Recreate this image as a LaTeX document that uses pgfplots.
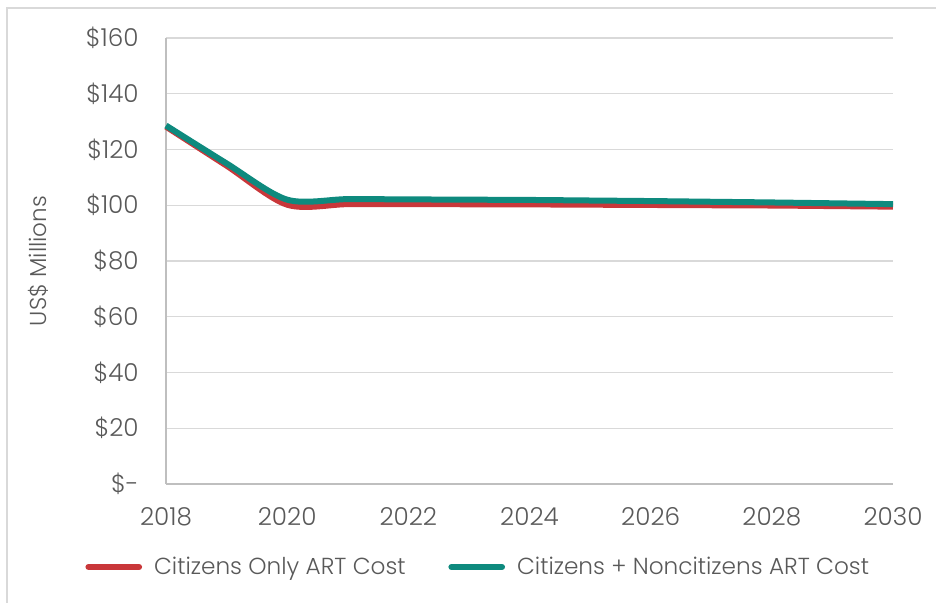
\documentclass[border=0pt]{standalone}
\usepackage{fontspec}
\setmainfont{Poppins}[UprightFont=* Light]
\usepackage{pgfplots}
\pgfplotsset{compat=1.18}
\definecolor{txt}{HTML}{595959}
\definecolor{gridc}{HTML}{D9D9D9}
\definecolor{axc}{HTML}{BFBFBF}
\definecolor{redc}{HTML}{C9373A}
\definecolor{tealc}{HTML}{0E8A7E}
\begin{document}
\begin{tikzpicture}
\path[use as bounding box] (-124.5pt,-89.25pt) rectangle (577.5pt,363pt);
\draw[gridc, line width=1.2pt] (-119.25pt,-89.25pt) -- (-119.25pt,357pt) -- (577.5pt,357pt);
\begin{axis}[
  at={(0,0)}, anchor=south west,
  scale only axis, width=545.25pt, height=334.5pt,
  xmin=2018, xmax=2030, ymin=0, ymax=160,
  xtick={2018,2020,...,2030},
  ytick={0,20,...,160},
  yticklabels={\$-,\$20,\$40,\$60,\$80,\$100,\$120,\$140,\$160},
  xticklabel style={/pgf/number format/1000 sep={}, yshift=-14pt},
  yticklabel style={xshift=-17pt},
  /pgf/number format/assume math mode=true,
  major tick length=0pt,
  axis lines*=left,
  axis line style={axc, line width=1.1pt},
  ymajorgrids, grid style={gridc, line width=1.1pt},
  tick label style={font=\fontsize{18.5}{22}\selectfont, text=txt},
  ylabel={US\$ Millions},
  every axis y label/.style={at={(rel axis cs:0,0.5)}, xshift=-96pt, rotate=90, anchor=center, font=\fontsize{17.3}{20}\selectfont, text=txt},
  legend columns=2,
  legend style={at={(0.43,-0.186)}, anchor=center, draw=none, fill=none, font=\fontsize{17.4}{20}\selectfont, text=txt,
    /tikz/every odd column/.append style={column sep=7pt},
    /tikz/every even column/.append style={column sep=30pt}},
  legend image code/.code={\draw[#1, line cap=round] (0pt,0pt) -- (38pt,0pt);},
  clip=false,
]
\addplot[redc, line width=4.5pt, smooth, tension=0.5] coordinates {
 (2018,128.2) (2019,114.2) (2020,100.2) (2021,100.4) (2022,100.4) (2023,100.35) (2024,100.3) (2025,100.2) (2026,100.1) (2027,100.0) (2028,99.9) (2029,99.7) (2030,99.5)};
\addlegendentry{Citizens Only ART Cost}
\addplot[tealc, line width=4.5pt, smooth, tension=0.5] coordinates {
 (2018,128.6) (2019,115.0) (2020,102.0) (2021,102.2) (2022,102.1) (2023,102.0) (2024,101.9) (2025,101.7) (2026,101.5) (2027,101.25) (2028,101.0) (2029,100.7) (2030,100.4)};
\addlegendentry{Citizens + Noncitizens ART Cost}
\end{axis}
\end{tikzpicture}
\end{document}
